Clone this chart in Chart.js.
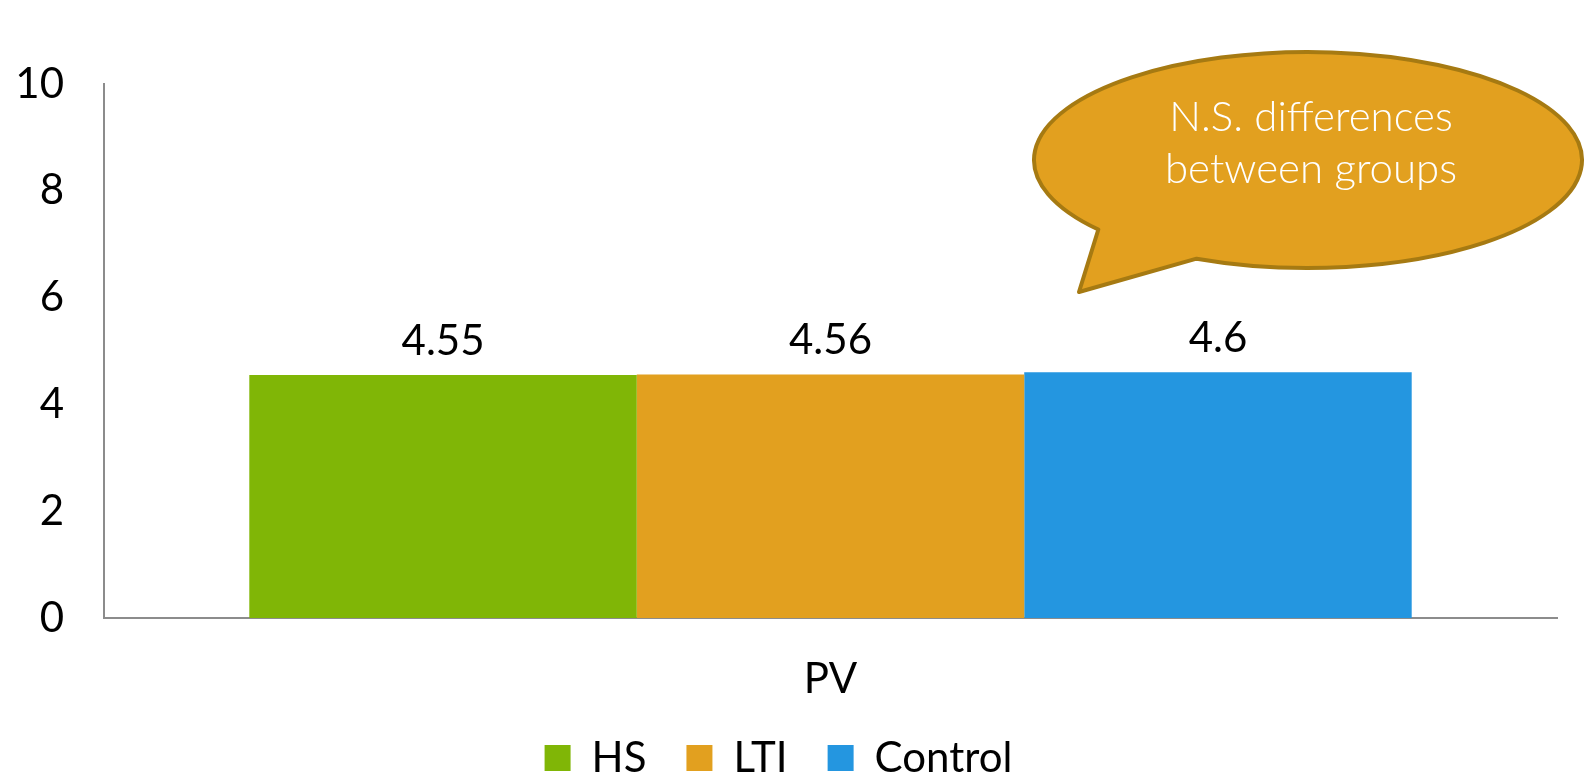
<!DOCTYPE html>
<html>
<head>
<meta charset="utf-8">
<script src="https://cdn.jsdelivr.net/npm/chart.js@4/dist/chart.umd.min.js"></script>
<style>
  html, body { margin: 0; padding: 0; background: #ffffff; }
  #wrap { width: 1585px; height: 781px; position: relative; }
</style>
</head>
<body>
<div id="wrap"><canvas id="chart" width="1585" height="781"></canvas></div>
<script>
// Categories, groups and mean scores
const categories = ['PV'];
const groups = ['HS', 'LTI', 'Control'];
const hsValues = [4.55];
const ltiValues = [4.56];
const controlValues = [4.6];
const groupColors = ['#80B606', '#E2A01F', '#2496E0'];
const yTicks = [0, 2, 4, 6, 8, 10];
const calloutLines = ['N.S. differences', 'between groups'];

const FONT = 'Lato, "Open Sans", "DejaVu Sans", sans-serif';
const SIZE = 42;

// Value labels above each bar
const valueLabels = {
  id: 'valueLabels',
  afterDatasetsDraw(chart) {
    const ctx = chart.ctx;
    ctx.save();
    ctx.font = SIZE + 'px ' + FONT;
    ctx.fillStyle = '#000';
    ctx.textAlign = 'center';
    ctx.textBaseline = 'alphabetic';
    chart.data.datasets.forEach((ds, i) => {
      chart.getDatasetMeta(i).data.forEach((bar, j) => {
        ctx.fillText(String(ds.data[j]), bar.x, bar.y - 20);
      });
    });
    ctx.restore();
  }
};

// Speech-bubble note in the upper right
const speechBubble = {
  id: 'speechBubble',
  afterDraw(chart) {
    const ctx = chart.ctx;
    const cx = 1308, cy = 160, rx = 274, ry = 108;
    const a = [1115, 224], b = [1203, 253], tip = [1079, 292];
    const ang = p => Math.atan2((p[1] - cy) / ry, (p[0] - cx) / rx);
    ctx.save();
    ctx.beginPath();
    ctx.ellipse(cx, cy, rx, ry, 0, ang(a), ang(b), false);
    ctx.lineTo(tip[0], tip[1]);
    ctx.closePath();
    ctx.fillStyle = '#E2A01F';
    ctx.fill();
    ctx.lineWidth = 4;
    ctx.lineJoin = 'round';
    ctx.strokeStyle = '#A67A12';
    ctx.stroke();
    ctx.fillStyle = '#ffffff';
    ctx.font = '300 ' + SIZE + 'px ' + FONT;
    ctx.textAlign = 'center';
    ctx.textBaseline = 'middle';
    ctx.fillText(calloutLines[0], 1311, 117);
    ctx.fillText(calloutLines[1], 1311, 169);
    ctx.restore();
  }
};

const datasets = [hsValues, ltiValues, controlValues].map((vals, i) => ({
  label: groups[i],
  data: vals,
  backgroundColor: groupColors[i],
  borderWidth: 0,
  barPercentage: 1.0,
  categoryPercentage: 0.8
}));

new Chart(document.getElementById('chart'), {
  type: 'bar',
  data: { labels: categories, datasets },
  options: {
    responsive: false,
    animation: false,
    layout: { padding: { top: 84, right: 28, left: 0, bottom: -8 } },
    plugins: {
      tooltip: { enabled: false },
      legend: {
        position: 'bottom',
        labels: {
          font: { family: FONT, size: SIZE },
          color: '#000',
          boxWidth: 26,
          boxHeight: 26,
          padding: 40,
          useBorderRadius: false
        }
      }
    },
    scales: {
      x: {
        grid: { display: false, drawTicks: false },
        border: { display: true, color: '#8C8C8C', width: 2 },
        ticks: { font: { family: FONT, size: SIZE }, color: '#000', padding: 36 },
        afterFit(scale) { scale.height = 79; }
      },
      y: {
        min: 0, max: 10,
        afterBuildTicks(scale) { scale.ticks = yTicks.map(v => ({ value: v })); },
        grid: { display: false, drawTicks: false },
        border: { display: true, color: '#8C8C8C', width: 2 },
        ticks: { font: { family: FONT, size: SIZE }, color: '#000', padding: 40 },
        afterFit(scale) { scale.width = 104; }
      }
    }
  },
  plugins: [valueLabels, speechBubble]
});
</script>
</body>
</html>
